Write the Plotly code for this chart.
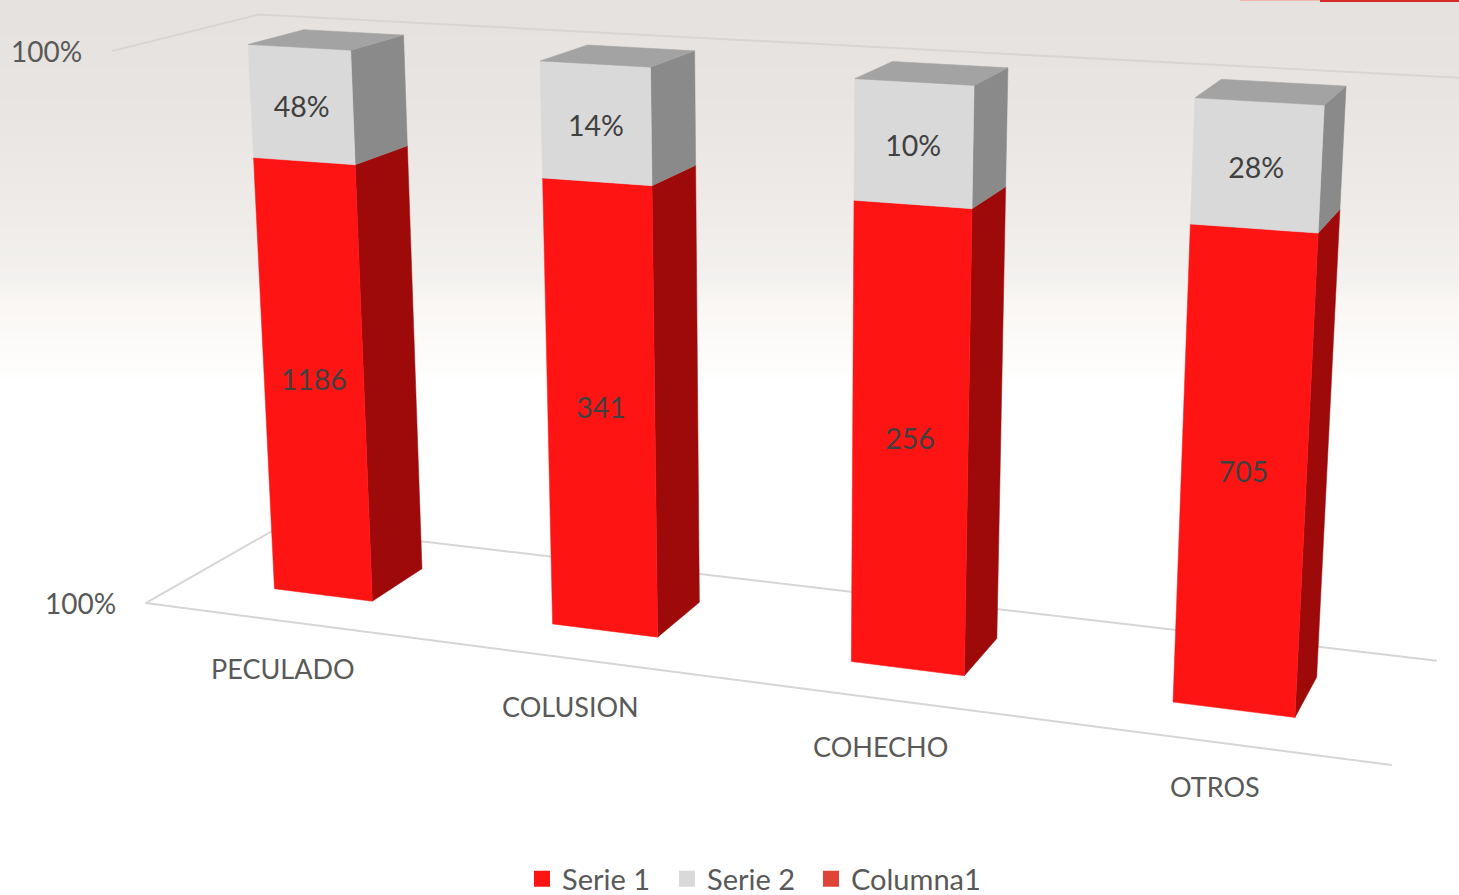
import numpy as np
import plotly.graph_objects as go

# ---- data ----
CATEGORIES = ["PECULADO", "COLUSION", "COHECHO", "OTROS"]
SERIE_1 = [1186, 341, 256, 705]
SERIE_2 = [296, 85, 64, 176]      # height of the grey block (stack is 100 %)
SERIE_2_LABELS = ["48%", "14%", "10%", "28%"]
COLUMNA_1 = [0, 0, 0, 0]
VALUE_TICKS = ["100%", "100%"]

# ---- 3-D view of the chart box (fitted to the reference) ----
CAMERA = np.array([
    [259.1313, 63.0813, -38.4259, 321.0840],
    [13.5717, -13.0728, -546.5618, 591.2730],
    [-0.034438, 0.033337, -0.048601, 0.993801],
])
BAR_HALF_WIDTH = 0.18
BOX_X = (-0.5, 3.5)
BOX_Y = (-0.76, 1.76)
BAR_Y = (0.0, 1.0)
TICK_LABEL_DROP = [48, 48, 48, 45]
GREY_LABEL_LOWER = 0.009

FONT = "Lato"
RED, RED_SIDE = "#FF1414", "#9E0A0A"
GREY, GREY_SIDE, GREY_TOP = "#D9D9D9", "#8A8A8A", "#A3A3A3"
COL1 = "#DF4437"
FRAME = "#D8D6D4"


def project(x, y, z):
    h = CAMERA @ np.array([x, y, z, 1.0])
    return h[0] / h[2], h[1] / h[2]


def path(points):
    xy = [project(*p) for p in points]
    xy.append(xy[0])
    return [p[0] for p in xy] + [None], [p[1] for p in xy] + [None]


def faces(builder):
    xs, ys = [], []
    for i in range(len(CATEGORIES)):
        a, b = builder(i)
        xs += a
        ys += b
    return xs, ys


totals = [a + b + c for a, b, c in zip(SERIE_1, SERIE_2, COLUMNA_1)]
split = [a / t for a, t in zip(SERIE_1, totals)]
y0, y1 = BAR_Y
hw = BAR_HALF_WIDTH


def front(i, z0, z1):
    return path([(i - hw, y0, z0), (i + hw, y0, z0), (i + hw, y0, z1), (i - hw, y0, z1)])


def side(i, z0, z1):
    return path([(i + hw, y0, z0), (i + hw, y1, z0), (i + hw, y1, z1), (i + hw, y0, z1)])


def top(i):
    return path([(i - hw, y0, 1), (i + hw, y0, 1), (i + hw, y1, 1), (i - hw, y1, 1)])


fig = go.Figure()


def poly(xy, color, name):
    fig.add_trace(go.Scatter(x=xy[0], y=xy[1], mode="lines", fill="toself", fillcolor=color,
                             line=dict(color=color, width=0.5), name=name, legendgroup=name,
                             showlegend=False, hoverinfo="skip"))


# chart box lines
bx0, bx1 = BOX_X
by0, by1 = BOX_Y
for pts in (
    [(bx0, by0, 1), (bx0, by1, 1), (bx1, by1, 1)],
    [(bx0, by1, 0), (bx0, by0, 0), (bx1, by0, 0)],
    [(bx0, by1, 0), (bx1, by1, 0)],
):
    xy = [project(*p) for p in pts]
    fig.add_trace(go.Scatter(x=[p[0] for p in xy], y=[p[1] for p in xy], mode="lines",
                             line=dict(color=FRAME, width=2), showlegend=False, hoverinfo="skip"))

poly(faces(lambda i: side(i, 0, split[i])), RED_SIDE, "Serie 1")
poly(faces(lambda i: front(i, 0, split[i])), RED, "Serie 1")
poly(faces(lambda i: side(i, split[i], 1)), GREY_SIDE, "Serie 2")
poly(faces(lambda i: front(i, split[i], 1)), GREY, "Serie 2")
poly(faces(top), GREY_TOP, "Serie 2")

# data labels, centred on each block's front face
red_xy = [project(i, y0, split[i] / 2) for i in range(4)]
grey_xy = [project(i, y0, (split[i] + 1) / 2 - GREY_LABEL_LOWER) for i in range(4)]
fig.add_trace(go.Scatter(x=[p[0] for p in red_xy], y=[p[1] for p in red_xy], mode="text",
                         text=[str(v) for v in SERIE_1], textposition="middle center",
                         textfont=dict(family=FONT, size=28.5, color="#404040"),
                         showlegend=False, hoverinfo="skip"))
fig.add_trace(go.Scatter(x=[p[0] for p in grey_xy], y=[p[1] for p in grey_xy], mode="text",
                         text=SERIE_2_LABELS, textposition="middle center",
                         textfont=dict(family=FONT, size=28.5, color="#404040"),
                         showlegend=False, hoverinfo="skip"))

# legend: one single-entry legend per series, laid out along the bottom edge
LEGEND_FONT = dict(family=FONT, size=29, color="#595959")
legend_layout = {}
for k, (name, color, left) in enumerate((("Serie 1", RED, 522), ("Serie 2", GREY, 667), ("Columna1", COL1, 811))):
    key = "legend" if k == 0 else f"legend{k + 1}"
    fig.add_trace(go.Scatter(x=[None], y=[None], mode="markers", name=name, legend=key,
                             marker=dict(symbol="square", size=18, color=color)))
    legend_layout[key] = dict(x=left / 1459, xanchor="left", y=1 - 879 / 895, yanchor="middle",
                              font=LEGEND_FONT, itemsizing="trace", bgcolor="rgba(0,0,0,0)",
                              itemclick=False, itemdoubleclick=False)

annotations = []
for i, c in enumerate(CATEGORIES):
    x, y = project(i, by0, 0)
    annotations.append(dict(x=x, y=y, xref="x", yref="y", text=c, showarrow=False,
                            yshift=-TICK_LABEL_DROP[i], xshift=1,
                            font=dict(family=FONT, size=27, color="#595959")))
for z, t in zip((1, 0), VALUE_TICKS):
    x, y = project(bx0, by0, z)
    annotations.append(dict(x=x, y=y, xref="x", yref="y", text=t, showarrow=False, xanchor="right",
                            xshift=-28, font=dict(family=FONT, size=28, color="#595959")))

shapes = []
stops_y = [0, 100, 200, 280, 300, 380, 381]
stops_c = np.array([[230, 226, 223], [233, 229, 226], [238, 235, 232], [244, 242, 240],
                    [250, 247, 244], [255, 255, 255], [255, 255, 255]], float)
for top_y in range(0, 380, 4):
    rgb = [int(np.interp(top_y, stops_y, stops_c[:, k])) for k in range(3)]
    shapes.append(dict(type="rect", xref="paper", yref="paper", x0=0, x1=1,
                       y0=1 - (top_y + 4) / 895, y1=1 - top_y / 895, layer="below",
                       line_width=0, fillcolor=f"rgb({rgb[0]},{rgb[1]},{rgb[2]})"))
shapes.append(dict(type="rect", xref="paper", yref="paper", x0=1240 / 1459, x1=1320 / 1459, y0=1 - 1 / 895, y1=1,
                   layer="below", line_width=0, fillcolor="#F2B8B0"))
shapes.append(dict(type="rect", xref="paper", yref="paper", x0=1320 / 1459, x1=1, y0=1 - 2 / 895, y1=1,
                   layer="below", line_width=0, fillcolor="#D62B2B"))

fig.update_layout(
    width=1459, height=895, margin=dict(l=0, r=0, t=0, b=0, autoexpand=False),
    paper_bgcolor="white", plot_bgcolor="rgba(0,0,0,0)",
    xaxis=dict(range=[0, 1459], visible=False, fixedrange=True),
    yaxis=dict(range=[895, 0], visible=False, fixedrange=True),
    annotations=annotations, shapes=shapes,
    showlegend=True,
    **legend_layout,
)
fig.write_html("out.html", config={"displayModeBar": False},
               post_script="document.body.style.margin='0';")
